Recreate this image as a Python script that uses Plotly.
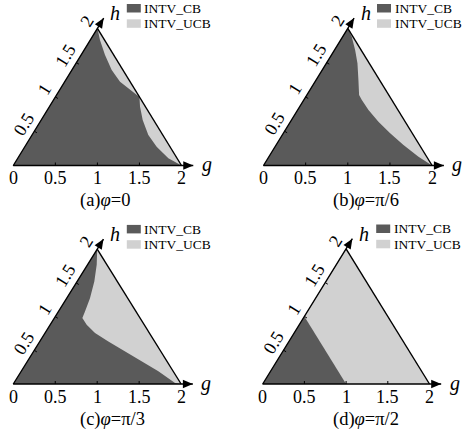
import math
import plotly.graph_objects as go

W, H = 462, 437

# ---------------- data ----------------
tick_vals = [0, 0.5, 1, 1.5, 2]
tick_text = ["0", "0.5", "1", "1.5", "2"]
captions = ["(a)<i>φ</i>=0", "(b)<i>φ</i>=π/6", "(c)<i>φ</i>=π/3", "(d)<i>φ</i>=π/2"]
series_names = ["INTV_CB", "INTV_UCB"]
axis_names = ["g", "h"]

# boundary between the INTV_CB region (left/below) and INTV_UCB region (right), as (g, h)
bnd_a_g = [0.0, 0.116, 0.285, 0.474, 0.658, 0.837, 1.0, 1.078, 1.207, 1.383, 1.567, 1.791, 2.0]
bnd_a_h = [2.0, 1.829, 1.611, 1.392, 1.222, 1.101, 1.0, 0.858, 0.663, 0.445, 0.275, 0.105, 0.0]
bnd_b_g = [0.0, 0.108, 0.245, 0.370, 0.503, 0.620, 0.689, 0.841, 1.044, 1.268, 1.511, 1.774, 2.0]
bnd_b_h = [2.0, 1.878, 1.684, 1.489, 1.246, 1.028, 0.955, 0.809, 0.639, 0.469, 0.299, 0.129, 0.0]
bnd_c_g = [0.0, 0.110, 0.205, 0.277, 0.316, 0.334, 0.435, 0.596, 0.817, 1.089, 1.362, 1.635, 1.920, 2.0]
bnd_c_h = [2.0, 1.768, 1.521, 1.274, 1.077, 0.978, 0.879, 0.756, 0.632, 0.484, 0.336, 0.188, 0.015, 0.0]
bnd_d_g = [0.0, 1.0]
bnd_d_h = [1.0, 0.0]
boundaries = [(bnd_a_g, bnd_a_h), (bnd_b_g, bnd_b_h), (bnd_c_g, bnd_c_h), (bnd_d_g, bnd_d_h)]

# ---------------- style ----------------
DARK = "#5a5a5a"
LIGHT = "#d1d1d1"
FONT = "Liberation Serif"

# pixel placement of each panel: origin (ox, oy) and pixels per unit
panels = [
    dict(ox=13.3, oy=165.5, sx=84.1, sy=68.6, cap_x=78),
    dict(ox=263.5, oy=165.5, sx=84.3, sy=68.6, cap_x=331),
    dict(ox=13.3, oy=384.0, sx=83.9, sy=67.4, cap_x=78),
    dict(ox=262.7, oy=384.0, sx=83.4, sy=67.6, cap_x=331),
]
G_TIP = 2.14
H_TIP = 2.15

fig = go.Figure()
shapes = []
annotations = []


def X(g, h):
    return g + h / 2.0


for i, p in enumerate(panels):
    xa = "x" if i == 0 else f"x{i+1}"
    ya = "y" if i == 0 else f"y{i+1}"
    xkey = "xaxis" if i == 0 else f"xaxis{i+1}"
    ykey = "yaxis" if i == 0 else f"yaxis{i+1}"
    ox, oy, sx, sy = p["ox"], p["oy"], p["sx"], p["sy"]
    fig.update_layout({
        xkey: dict(domain=[0, 1], range=[-ox / sx, (W - ox) / sx], visible=False,
                   anchor=ya, fixedrange=True),
        ykey: dict(domain=[0, 1], range=[-(H - oy) / sy, oy / sy], visible=False,
                   anchor=xa, fixedrange=True),
    })

    # INTV_CB: whole triangle
    tri_g = [0, 2, 0]
    tri_h = [0, 0, 2]
    fig.add_trace(go.Scatter(
        x=[X(g, h) for g, h in zip(tri_g, tri_h)], y=tri_h, xaxis=xa, yaxis=ya,
        mode="lines", fill="toself", fillcolor=DARK, line=dict(width=0),
        name=series_names[0], showlegend=False, hoverinfo="skip"))
    # INTV_UCB: region right of the boundary
    bg, bh = boundaries[i]
    pg = list(bg) + [2, 0]
    ph = list(bh) + [0, 2]
    fig.add_trace(go.Scatter(
        x=[X(g, h) for g, h in zip(pg, ph)], y=ph, xaxis=xa, yaxis=ya,
        mode="lines", fill="toself", fillcolor=LIGHT, line=dict(width=0),
        name=series_names[1], showlegend=False, hoverinfo="skip"))
    # outline + axes
    fig.add_trace(go.Scatter(
        x=[X(G_TIP, 0), 0, X(0, H_TIP), None, X(2, 0), X(0, 2)],
        y=[0, 0, H_TIP, None, 0, 2], xaxis=xa, yaxis=ya,
        mode="lines", line=dict(color="black", width=1.4),
        showlegend=False, hoverinfo="skip"))

    # pixel helpers
    def to_px(g, h):
        return (ox + sx * X(g, h), oy - sy * h)

    def to_data(px, py):
        return ((px - ox) / sx, (oy - py) / sy)

    def arrow_head(tip_px, d, L=10.0, w=4.2):
        tx, ty = tip_px
        n = (-d[1], d[0])
        bx, by = tx - L * d[0], ty - L * d[1]
        pts = [(tx, ty), (bx + w * n[0], by + w * n[1]), (bx - w * n[0], by - w * n[1])]
        dp = [to_data(*q) for q in pts]
        path = "M {} {} L {} {} L {} {} Z".format(*[v for q in dp for v in q])
        return dict(type="path", path=path, xref=xa, yref=ya, fillcolor="black",
                    line=dict(width=0))

    # axis arrows
    shapes.append(arrow_head(to_px(G_TIP, 0), (1.0, 0.0)))
    ex, ey = sx / 2.0, -sy
    el = math.hypot(ex, ey)
    u = (ex / el, ey / el)
    shapes.append(arrow_head(to_px(0, H_TIP), u))
    ang = math.degrees(math.atan2(-ey, ex))
    nrm = (ey / el, -ex / el)  # outward (left/up) in screen coords

    # ticks (small marks)
    for t in tick_vals[1:-1]:
        px, py = to_px(t, 0)
        a = to_data(px, py)
        b = to_data(px, py - 3)
        shapes.append(dict(type="line", xref=xa, yref=ya, x0=a[0], y0=a[1], x1=b[0], y1=b[1],
                           line=dict(color="black", width=1)))
        px, py = to_px(0, t)
        a = to_data(px, py)
        b = to_data(px - 3 * nrm[0], py - 3 * nrm[1])
        shapes.append(dict(type="line", xref=xa, yref=ya, x0=a[0], y0=a[1], x1=b[0], y1=b[1],
                           line=dict(color="black", width=1)))

    # bottom tick labels
    for t, s in zip(tick_vals, tick_text):
        annotations.append(dict(x=X(t, 0), y=0, xref=xa, yref=ya, text=s, showarrow=False,
                                xanchor="center", yanchor="middle", yshift=-12.5,
                                font=dict(family=FONT, size=18, color="black")))
    # slanted tick labels
    for t, s in zip(tick_vals[1:], tick_text[1:]):
        dpx = 13 * nrm[0] + 1 * u[0]
        dpy = 13 * nrm[1] + 1 * u[1]
        annotations.append(dict(x=X(0, t), y=t, xref=xa, yref=ya, text=s, showarrow=False,
                                xanchor="center", yanchor="middle", textangle=-ang,
                                xshift=dpx, yshift=-dpy,
                                font=dict(family=FONT, size=18, color="black")))
    # axis names
    annotations.append(dict(x=X(G_TIP, 0), y=0, xref=xa, yref=ya, text="<i>g</i>",
                            showarrow=False, xanchor="center", yanchor="middle",
                            xshift=13.5, yshift=1,
                            font=dict(family=FONT, size=20, color="black")))
    annotations.append(dict(x=X(0, H_TIP), y=H_TIP, xref=xa, yref=ya, text="<i>h</i>",
                            showarrow=False, xanchor="center", yanchor="middle",
                            xshift=11.5, yshift=5,
                            font=dict(family=FONT, size=20, color="black")))
    # caption
    annotations.append(dict(x=p["cap_x"] / W, y=1 - (oy + 35) / H, xref="paper", yref="paper",
                            text=captions[i], showarrow=False, xanchor="left", yanchor="middle",
                            font=dict(family=FONT, size=18.5, color="black")))
    # legend
    apx, apy = to_px(0, 2)
    lx0 = ox + 113.5
    for k, (col, name) in enumerate(zip([DARK, LIGHT], series_names)):
        y0 = apy - 24.3 + k * 15.3
        shapes.append(dict(type="rect", xref="paper", yref="paper",
                           x0=lx0 / W, x1=(lx0 + 14) / W,
                           y0=1 - (y0 + 8.5) / H, y1=1 - y0 / H,
                           fillcolor=col, line=dict(width=0)))
        annotations.append(dict(x=(lx0 + 15.5) / W, y=1 - (y0 + 4.3) / H, xref="paper",
                                yref="paper", text=name, showarrow=False,
                                xanchor="left", yanchor="middle",
                                font=dict(family=FONT, size=13.5, color="black")))

fig.update_layout(
    width=W, height=H, margin=dict(l=0, r=0, t=0, b=0),
    paper_bgcolor="white", plot_bgcolor="rgba(0,0,0,0)",
    showlegend=False, shapes=shapes, annotations=annotations,
)

fig.write_html("out.html")
